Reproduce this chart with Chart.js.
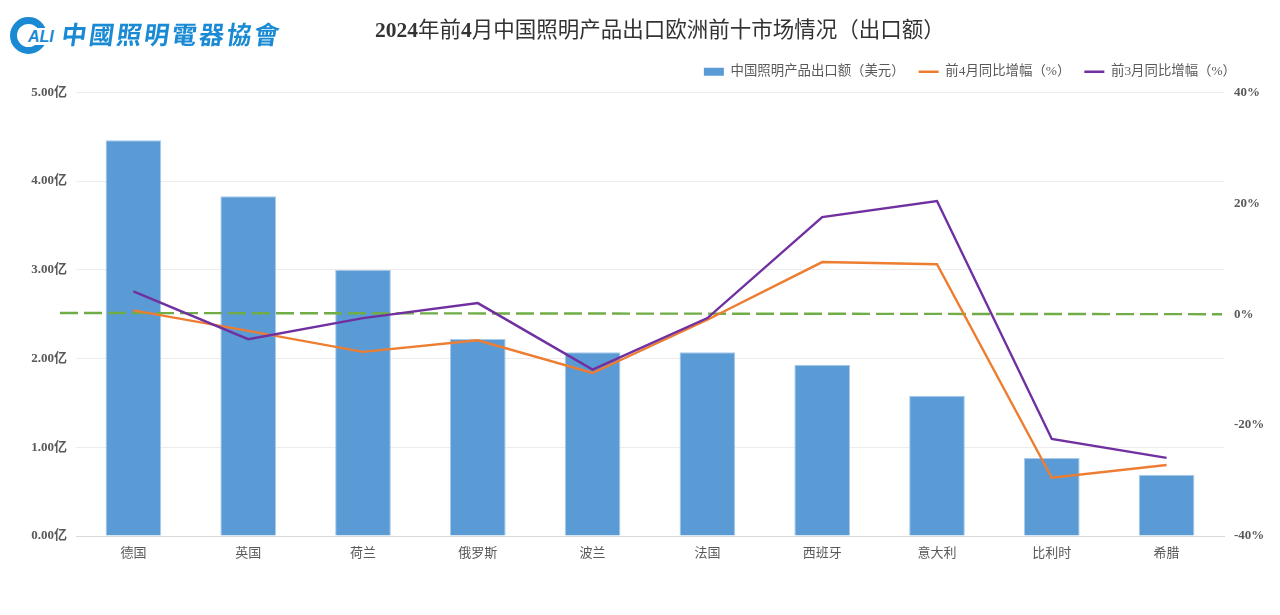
<!DOCTYPE html>
<html>
<head>
<meta charset="utf-8">
<title>2024年前4月中国照明产品出口欧洲前十市场情况</title>
<script src="https://cdn.jsdelivr.net/npm/chart.js@4/dist/chart.umd.min.js"></script>
<style>
  html, body { margin: 0; padding: 0; background: #fff; width: 1280px; height: 615px; overflow: hidden; }
  canvas { position: absolute; left: 0; top: 0; }
  #title { position: absolute; left: 375px; top: 12px; margin: 0; font: normal 21.5px "Liberation Serif", "Noto Sans CJK SC", serif; color: #333; white-space: nowrap; }
  #title b { font-family: "Liberation Serif", serif; }
  #ring { position: absolute; left: 10px; top: 17px; width: 23px; height: 23px; border: 7.5px solid #1a8ad4; border-radius: 50%; }
  #ali { position: absolute; left: 27px; top: 28px; font: italic bold 16px "Liberation Sans", sans-serif; color: #1a8ad4; background: #fff; line-height: 17px; padding: 0 1px; }
  #logo { position: absolute; left: 62px; top: 15px; font: bold 25px "Noto Sans CJK TC", sans-serif; color: #1a8ad4; letter-spacing: 2.5px; white-space: nowrap; transform: skewX(-8deg); }
</style>
</head>
<body>
<canvas id="chart" width="1280" height="615"></canvas>
<div id="ring"></div>
<div id="ali">ALI</div>
<div id="logo">中國照明電器協會</div>
<h1 id="title"><b>2024</b>年前<b>4</b>月中国照明产品出口欧洲前十市场情况（出口额）</h1>
<script>
const categories = ['德国', '英国', '荷兰', '俄罗斯', '波兰', '法国', '西班牙', '意大利', '比利时', '希腊'];
const exportValues = [4.46, 3.83, 3.00, 2.22, 2.07, 2.07, 1.93, 1.58, 0.88, 0.69];
const growth4m = [0.7, -3.0, -6.8, -4.7, -10.6, -1.0, 9.4, 9.0, -29.5, -27.2];
const growth3m = [4.1, -4.5, -0.7, 2.0, -10.0, -0.7, 17.5, 20.4, -22.5, -25.9];
const seriesNames = ['中国照明产品出口额（美元）', '前4月同比增幅（%）', '前3月同比增幅（%）'];

const serif = '"Liberation Serif", "Noto Sans CJK SC", serif';

// green dashed zero line, sits over the bars but under the two lines
const zeroLine = {
  id: 'zeroLine',
  afterDatasetDraw(chart, args) {
    if (args.index !== 0) return;
    const y = chart.scales.y1.getPixelForValue(0);
    const ctx = chart.ctx;
    ctx.save();
    ctx.strokeStyle = '#70ad47';
    ctx.lineWidth = 2.4;
    ctx.setLineDash([18, 6]);
    ctx.beginPath();
    ctx.moveTo(60, y - 1.2);
    ctx.lineTo(1222, y);
    ctx.stroke();
    ctx.restore();
  }
};

// legend keeps its place in the layout, only moved to where the reference has it.
// the extra 1px on lineWidths stops the last item wrapping at draw time
const legendNudge = {
  id: 'legendNudge',
  afterLayout(chart) {
    const legend = chart.legend;
    legend.right -= 29;
    legend.lineWidths[0] += 1;
    legend.top -= 4;
    legend.bottom -= 4;
  }
};

new Chart(document.getElementById('chart').getContext('2d'), {
  data: {
    labels: categories,
    datasets: [
      { type: 'bar', label: seriesNames[0], data: exportValues, yAxisID: 'y', order: 3,
        backgroundColor: '#5b9bd5', borderColor: '#a9cbe9', borderWidth: 1,
        barPercentage: 1, categoryPercentage: 0.485 },
      { type: 'line', label: seriesNames[1], data: growth4m, yAxisID: 'y1', order: 2,
        borderColor: '#ed7d31', backgroundColor: '#ed7d31', borderWidth: 2.4, pointRadius: 0, tension: 0 },
      { type: 'line', label: seriesNames[2], data: growth3m, yAxisID: 'y1', order: 1,
        borderColor: '#7030a0', backgroundColor: '#7030a0', borderWidth: 2.4, pointRadius: 0, tension: 0 }
    ]
  },
  options: {
    responsive: false,
    animation: false,
    layout: { padding: { top: 55, right: 0, left: 0, bottom: 0 } },
    plugins: {
      tooltip: { enabled: false },
      legend: {
        position: 'top',
        align: 'end',
        labels: {
          font: { family: serif, size: 13.4 },
          color: '#595959',
          usePointStyle: true,
          pointStyleWidth: 20,
          boxHeight: 8,
          padding: 14,
          sort: (a, b) => a.datasetIndex - b.datasetIndex,
          generateLabels(chart) {
            return Chart.defaults.plugins.legend.labels.generateLabels(chart).map(item => ({
              ...item,
              pointStyle: item.datasetIndex === 0 ? 'rect' : 'line',
              lineWidth: item.datasetIndex === 0 ? 0 : 2.4
            }));
          }
        }
      }
    },
    scales: {
      x: {
        grid: { display: false, drawTicks: false },
        border: { color: '#d9d9d9' },
        ticks: { font: { family: serif, size: 13 }, color: '#595959', padding: 10, maxRotation: 0 },
        afterFit(scale) { scale.height = 79; }
      },
      y: {
        position: 'left',
        min: 0,
        max: 5,
        grid: { color: '#ececec', drawTicks: false },
        border: { display: false },
        ticks: {
          stepSize: 1,
          padding: 9,
          font: { family: serif, size: 13, weight: 'bold' },
          color: '#595959',
          callback: v => v.toFixed(2) + '亿'
        },
        afterFit(scale) { scale.width = 76; }
      },
      y1: {
        position: 'right',
        min: -40,
        max: 40,
        grid: { display: false, drawTicks: false },
        border: { display: false },
        ticks: {
          stepSize: 20,
          padding: 10,
          font: { family: serif, size: 13, weight: 'bold' },
          color: '#595959',
          callback: v => v + '%'
        },
        afterFit(scale) { scale.width = 56; }
      }
    }
  },
  plugins: [zeroLine, legendNudge]
});
</script>
</body>
</html>
